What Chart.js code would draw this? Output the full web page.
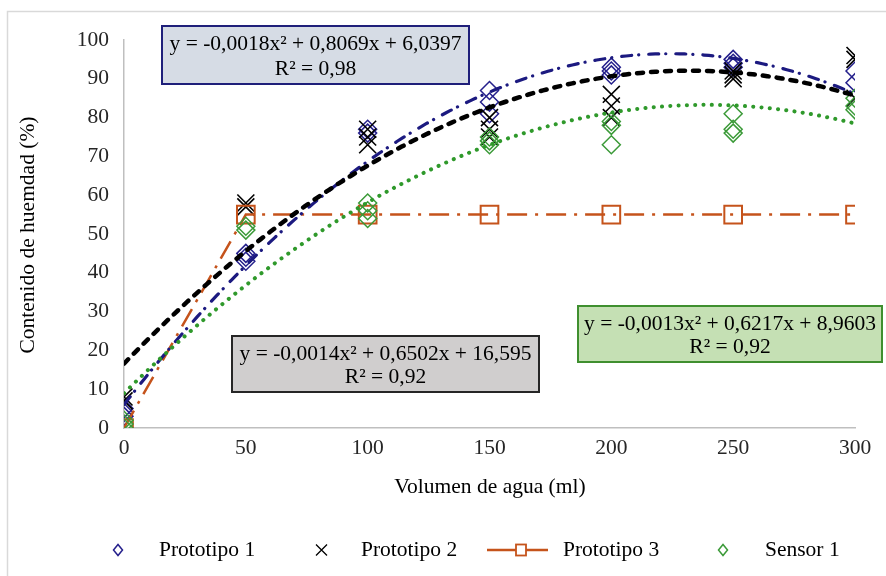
<!DOCTYPE html>
<html>
<head>
<meta charset="utf-8">
<script src="https://cdn.jsdelivr.net/npm/chart.js@4.4.1/dist/chart.umd.min.js"></script>
<style>
  html, body { margin: 0; padding: 0; background: #fff; }
  canvas { display: block; }
</style>
</head>
<body>
<canvas id="chart" width="886" height="576"></canvas>
<script>
// ---- Data ----

const volumes = [0, 50, 100, 150, 200, 250, 300];

// replicate readings at each volume
const proto1 = [[5, 4, 3], [45, 44, 43], [77, 76], [87, 84, 81], [93, 92, 91], [95, 94, 93], [92, 89]];
const proto2 = [[8, 7], [58, 57], [77, 75, 73], [80, 77, 75], [86, 83, 80], [92, 91, 90], [96, 95, 85]];
const proto3 = [0, 55, 55, 55, 55, 55, 55];
const sensor1 = [[2, 1, 0], [52, 51], [58, 56, 54], [75, 74, 73], [79, 78, 73], [81, 77, 76], [85, 83, 82]];

// polynomial trendlines: [a, b, c] for y = a*x^2 + b*x + c
const fitProto1 = [-0.0018, 0.8069, 6.0397];
const fitProto2 = [-0.0014, 0.6502, 16.595];
const fitSensor1 = [-0.0013, 0.6217, 8.9603];

const xTicks = [0, 50, 100, 150, 200, 250, 300];
const yTicks = [0, 10, 20, 30, 40, 50, 60, 70, 80, 90, 100];

// ---- Helpers ----

const SERIF = '"Liberation Serif", "Times New Roman", serif';
const FONT_PX = 21.5;
const BLUE = '#25208c';
const GREEN = '#3b9a38';
const ORANGE = '#c5531b';

function points(reps) {
  return volumes.flatMap((v, i) => reps[i].map(y => ({ x: v, y })));
}

function curve(c) {
  const out = [];
  for (let x = 0; x <= 300; x += 2) out.push({ x, y: c[0] * x * x + c[1] * x + c[2] });
  return out;
}

// ---- Overlays: frame, titles, legend, equation boxes ----

function eqBox(ctx, box) {
  ctx.save();
  ctx.fillStyle = box.fill;
  ctx.fillRect(box.x, box.y, box.w, box.h);
  ctx.lineWidth = 2;
  ctx.strokeStyle = box.stroke;
  ctx.strokeRect(box.x, box.y, box.w, box.h);
  ctx.fillStyle = '#000';
  ctx.font = FONT_PX + 'px ' + SERIF;
  ctx.textAlign = 'center';
  ctx.textBaseline = 'middle';
  const cx = box.x + box.w / 2;
  ctx.fillText(box.lines[0], cx, box.y + box.h * 0.32);
  ctx.fillText(box.lines[1], cx, box.y + box.h * 0.74);
  ctx.restore();
}

function diamond(ctx, x, y, w, h, color) {
  ctx.beginPath();
  ctx.moveTo(x - w, y);
  ctx.lineTo(x, y - h);
  ctx.lineTo(x + w, y);
  ctx.lineTo(x, y + h);
  ctx.closePath();
  ctx.strokeStyle = color;
  ctx.lineWidth = 1.5;
  ctx.stroke();
}

const overlays = {
  id: 'overlays',
  beforeDraw(chart) {
    const ctx = chart.ctx;
    ctx.save();
    ctx.fillStyle = '#fff';
    ctx.fillRect(0, 0, chart.width, chart.height);
    ctx.strokeStyle = '#d9d9d9';
    ctx.lineWidth = 1.5;
    ctx.strokeRect(7.5, 11.5, 900, 600);
    ctx.restore();
  },
  afterDraw(chart) {
    const ctx = chart.ctx;
    ctx.save();
    ctx.fillStyle = '#000';
    ctx.font = FONT_PX + 'px ' + SERIF;
    ctx.textAlign = 'center';
    ctx.textBaseline = 'middle';
    ctx.fillText('Volumen de agua (ml)', 490, 487);

    ctx.translate(28, 235);
    ctx.rotate(-Math.PI / 2);
    ctx.fillText('Contenido de huemdad (%)', 0, 0);
    ctx.restore();

    // legend
    ctx.save();
    const ly = 550;
    ctx.font = FONT_PX + 'px ' + SERIF;
    ctx.textAlign = 'left';
    ctx.textBaseline = 'middle';
    ctx.fillStyle = '#000';

    diamond(ctx, 118, ly, 4.5, 5.5, BLUE);
    ctx.fillText('Prototipo 1', 159, ly);

    ctx.beginPath();
    ctx.moveTo(316, ly - 5.5); ctx.lineTo(327, ly + 5.5);
    ctx.moveTo(327, ly - 5.5); ctx.lineTo(316, ly + 5.5);
    ctx.strokeStyle = '#000';
    ctx.lineWidth = 1.3;
    ctx.stroke();
    ctx.fillText('Prototipo 2', 361, ly);

    ctx.beginPath();
    ctx.moveTo(487, ly); ctx.lineTo(548, ly);
    ctx.strokeStyle = ORANGE;
    ctx.lineWidth = 2.5;
    ctx.stroke();
    ctx.fillStyle = '#fff';
    ctx.fillRect(516, ly - 5.5, 10, 11);
    ctx.lineWidth = 1.8;
    ctx.strokeRect(516, ly - 5.5, 10, 11);
    ctx.fillStyle = '#000';
    ctx.fillText('Prototipo 3', 563, ly);

    diamond(ctx, 723, ly, 4.5, 5.5, GREEN);
    ctx.fillText('Sensor 1', 765, ly);
    ctx.restore();

    eqBox(ctx, { x: 162, y: 26, w: 307, h: 58, fill: '#d6dce5', stroke: '#1f1f7a',
      lines: ['y = -0,0018x\u00b2 + 0,8069x + 6,0397', 'R\u00b2 = 0,98'] });
    eqBox(ctx, { x: 232, y: 336, w: 307, h: 56, fill: '#d0cece', stroke: '#262626',
      lines: ['y = -0,0014x\u00b2 + 0,6502x + 16,595', 'R\u00b2 = 0,92'] });
    eqBox(ctx, { x: 578, y: 306, w: 304, h: 56, fill: '#c5e0b4', stroke: '#3f8f2f',
      lines: ['y = -0,0013x\u00b2 + 0,6217x + 8,9603', 'R\u00b2 = 0,92'] });
  }
};

// ---- Chart ----

new Chart(document.getElementById('chart'), {
  type: 'scatter',
  data: {
    datasets: [
      {
        label: 'Prototipo 1', data: points(proto1), order: 6,
        pointStyle: 'rectRot', pointRadius: 9, pointBorderWidth: 1.5,
        borderColor: BLUE, backgroundColor: 'rgba(0,0,0,0)',
      },
      {
        label: 'Prototipo 2', data: points(proto2), order: 5,
        pointStyle: 'crossRot', pointRadius: 12, pointBorderWidth: 1.6,
        borderColor: '#000', backgroundColor: 'rgba(0,0,0,0)',
      },
      {
        label: 'Prototipo 3', data: volumes.map((v, i) => ({ x: v, y: proto3[i] })), order: 4,
        showLine: true, borderColor: ORANGE, borderWidth: 2.5, borderDash: [20, 8, 3, 8],
        pointStyle: 'rect', pointRadius: 12.5, pointBorderWidth: 2,
        pointBorderColor: ORANGE, pointBackgroundColor: 'rgba(0,0,0,0)',
      },
      {
        label: 'Sensor 1', data: points(sensor1), order: 3,
        pointStyle: 'rectRot', pointRadius: 9, pointBorderWidth: 1.5,
        borderColor: GREEN, backgroundColor: 'rgba(0,0,0,0)',
      },
      {
        label: 'Tendencia Prototipo 1', data: curve(fitProto1), order: 2,
        showLine: true, pointRadius: 0, borderColor: '#1c1a80', borderWidth: 3.2,
        borderDash: [10, 7, 0.1, 10], borderCapStyle: 'round',
      },
      {
        label: 'Tendencia Prototipo 2', data: curve(fitProto2), order: 1,
        showLine: true, pointRadius: 0, borderColor: '#000', borderWidth: 4.5,
        borderDash: [6, 8], borderCapStyle: 'round',
      },
      {
        label: 'Tendencia Sensor 1', data: curve(fitSensor1), order: 0,
        showLine: true, pointRadius: 0, borderColor: '#2f992b', borderWidth: 4,
        borderDash: [0.1, 8.2], borderCapStyle: 'round',
      },
    ],
  },
  options: {
    responsive: false,
    animation: false,
    layout: { padding: { left: 40, top: 40, right: 31, bottom: 0 } },
    plugins: { legend: { display: false }, tooltip: { enabled: false } },
    scales: {
      x: {
        type: 'linear', min: 0, max: 300,
        afterBuildTicks: s => { s.ticks = xTicks.map(v => ({ value: v })); },
        afterFit: s => { s.height = 148; },
        grid: { display: false, drawTicks: false },
        border: { display: true, color: '#bfbfbf', width: 1.5 },
        ticks: { padding: 7, color: '#262626', font: { family: SERIF, size: 21.5 }, maxRotation: 0 },
      },
      y: {
        type: 'linear', min: 0, max: 100,
        afterBuildTicks: s => { s.ticks = yTicks.map(v => ({ value: v })); },
        afterFit: s => { s.width = 84; },
        grid: { display: false, drawTicks: false },
        border: { display: true, color: '#bfbfbf', width: 1.5 },
        ticks: { padding: 15, color: '#262626', font: { family: SERIF, size: 21.5 } },
      },
    },
  },
  plugins: [overlays],
});
</script>
</body>
</html>
